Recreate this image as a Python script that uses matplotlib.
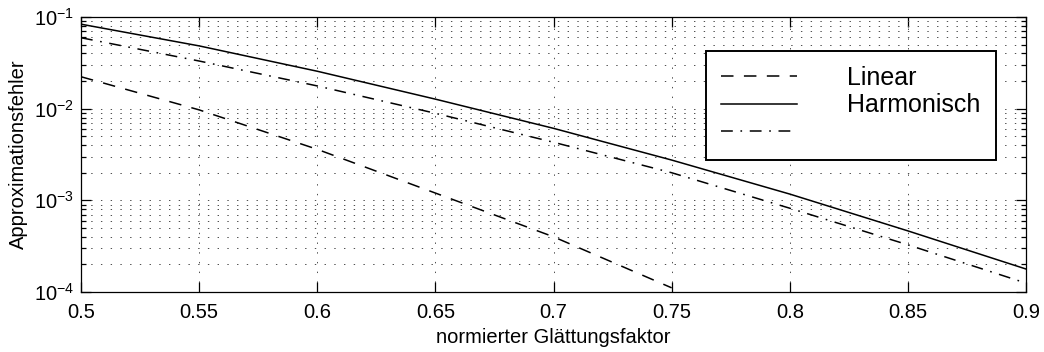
import matplotlib
matplotlib.use('Agg')
import matplotlib.pyplot as plt
from matplotlib.ticker import FixedLocator, FormatStrFormatter, LogLocator

plt.rcParams['font.family'] = ['Liberation Sans', 'DejaVu Sans']
plt.rcParams['mathtext.fontset'] = 'custom'
plt.rcParams['mathtext.rm'] = 'Liberation Sans'
plt.rcParams['mathtext.it'] = 'Liberation Sans:italic'
plt.rcParams['lines.scale_dashes'] = False

# smoothing factor on the x axis
faktor = [0.5, 0.55, 0.6, 0.65, 0.7, 0.75, 0.8, 0.85, 0.9]
faktor_lin = [0.5, 0.55, 0.6, 0.65, 0.7, 0.75]

# approximation errors
fehler_linear = [0.0223, 0.0097, 0.0036, 0.0012, 0.0004, 0.000111]
fehler_harmonisch = [0.0835, 0.0484, 0.0256, 0.0127, 0.0061, 0.00275,
                     0.00117, 0.000464, 0.000178]
fehler_dritter = [0.0594, 0.0331, 0.0177, 0.0089, 0.0043, 0.002,
                  0.00082, 0.000327, 0.000125]

labels = ['Linear', 'Harmonisch', ' ']
xticks = [0.5, 0.55, 0.6, 0.65, 0.7, 0.75, 0.8, 0.85, 0.9]

fig = plt.figure(figsize=(10.44, 3.52), dpi=100)
ax = fig.add_axes([0.0776, 0.1705, 0.9052, 0.7812])

lw = 1.1
ax.plot(faktor_lin, fehler_linear, color='k', lw=lw, linestyle=(0, (9, 7.5)))
ax.plot(faktor, fehler_harmonisch, color='k', lw=lw, linestyle='-')
ax.plot(faktor, fehler_dritter, color='k', lw=lw,
        linestyle=(0, (8.5, 5.5, 1.2, 5.5)))

ax.set_yscale('log')
ax.set_xlim(0.5, 0.9)
ax.set_ylim(1e-4, 1e-1)
ax.xaxis.set_major_locator(FixedLocator(xticks))
ax.xaxis.set_major_formatter(FormatStrFormatter('%g'))
ax.yaxis.set_major_locator(LogLocator(base=10, numticks=10))
ax.yaxis.set_minor_locator(LogLocator(base=10, subs=range(2, 10), numticks=20))

# dotted grid, major x and major+minor y
grid_style = dict(color='0.3', lw=0.7, linestyle=(0, (1, 6)))
ax.grid(True, which='major', axis='x', **grid_style)
ax.grid(True, which='both', axis='y', **grid_style)

ax.tick_params(which='both', direction='in', top=True, right=True,
               labelsize=14.5, width=0.9)
ax.tick_params(which='major', length=7)
ax.tick_params(which='minor', length=3.6)
ax.tick_params(axis='x', pad=8)
ax.tick_params(axis='y', pad=5)
for s in ax.spines.values():
    s.set_linewidth(0.9)

ax.set_xlabel('normierter Glättungsfaktor', fontsize=14.5, labelpad=4)
ax.set_ylabel('Approximationsfehler', fontsize=14.5, labelpad=4)

leg = ax.legend(labels, loc='upper left', bbox_to_anchor=(0.6614, 0.8764),
                borderaxespad=0, fontsize=18, labelspacing=0.14,
                borderpad=0.6, handlelength=3.05, handletextpad=2.0,
                fancybox=False, framealpha=1, edgecolor='k')
leg.get_frame().set_linewidth(1.4)

fig.savefig('out.png', dpi=100)
